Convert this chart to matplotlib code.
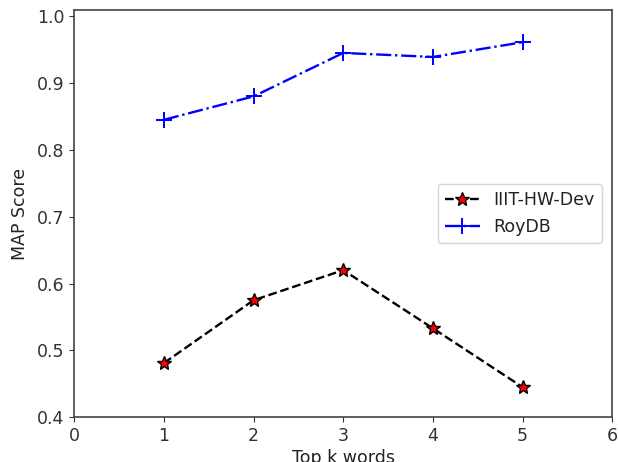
import matplotlib
matplotlib.use("Agg")
import matplotlib.pyplot as plt

# Top k words vs MAP score
top_k = [1, 2, 3, 4, 5]
iiit_hw_dev = [0.481, 0.575, 0.620, 0.533, 0.445]
roydb = [0.845, 0.880, 0.945, 0.939, 0.961]

plt.rcParams['font.size'] = 12.5
plt.rcParams['text.color'] = '#222222'
plt.rcParams['axes.labelcolor'] = '#222222'
plt.rcParams['xtick.color'] = '#333333'
plt.rcParams['ytick.color'] = '#333333'

fig = plt.figure(figsize=(6.19, 4.62), dpi=100)
ax = fig.add_axes([0.12, 0.097, 0.869, 0.881])

ax.plot(top_k, iiit_hw_dev, linestyle='--', color='black', marker='*',
        markerfacecolor='red', markeredgecolor='black', markersize=10,
        linewidth=1.7, label='IIIT-HW-Dev')
ax.plot(top_k, roydb, linestyle='-.', color='blue', marker='+',
        markersize=12, markeredgewidth=1.4, linewidth=1.7, label='RoyDB')

for s in ax.spines.values():
    s.set_color('#444444')
    s.set_linewidth(1.2)

ax.set_xlim(0, 6)
ax.set_ylim(0.4, 1.009)
ax.set_xlabel('Top k words', labelpad=3)
ax.set_ylabel('MAP Score', labelpad=6)
ax.legend(loc='center right', borderaxespad=0.6)

fig.savefig('out.png', dpi=100)
